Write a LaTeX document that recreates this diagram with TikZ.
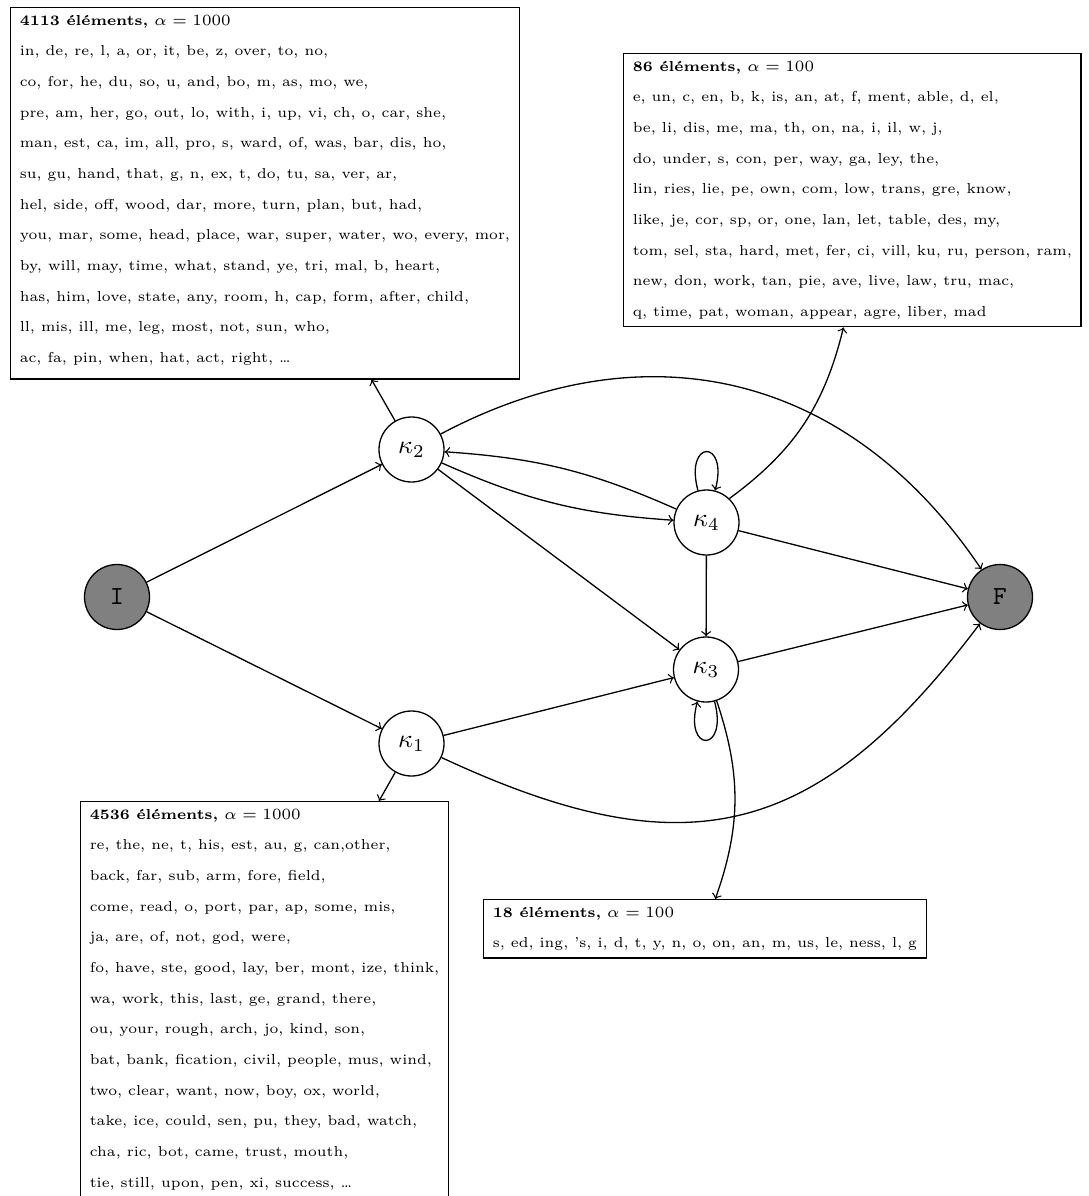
\documentclass[tikz,border=0pt]{standalone}
\begin{document}
\begin{tikzpicture}[x=0.3846pt, y=0.3846pt, line width=0.5pt,
  state/.style={circle, draw, minimum size=25pt, inner sep=0pt},
  term/.style={state, fill=gray, font=\ttfamily},
  wordbox/.style={draw, anchor=north west, align=left, inner xsep=3.5pt,
    inner ysep=2.8pt, font=\fontsize{5.55}{11.8}\selectfont},
  arr/.style={->}]
\useasboundingbox (0,0) rectangle (1089,-1196);

% states
\node[term]  (I)  at (117,-597)     {I};
\node[term]  (F)  at (1000,-597)    {F};
\node[state] (k2) at (411.5,-449.5) {$\kappa_2$};
\node[state] (k4) at (706.5,-522.5) {$\kappa_4$};
\node[state] (k3) at (706,-669.5)   {$\kappa_3$};
\node[state] (k1) at (411.5,-743.5) {$\kappa_1$};

% word lists emitted by each state
\node[wordbox] (b2) at (10,-7) {\textbf{4113 éléments,} $\alpha = 1000$\\
in, de, re, l, a, or, it, be, z, over, to, no,\\
co, for, he, du, so, u, and, bo, m, as, mo, we,\\
pre, am, her, go, out, lo, with, i, up, vi, ch, o, car, she,\\
man, est, ca, im, all, pro, s, ward, of, was, bar, dis, ho,\\
su, gu, hand, that, g, n, ex, t, do, tu, sa, ver, ar,\\
hel, side, off, wood, dar, more, turn, plan, but, had,\\
you, mar, some, head, place, war, super, water, wo, every, mor,\\
by, will, may, time, what, stand, ye, tri, mal, b, heart,\\
has, him, love, state, any, room, h, cap, form, after, child,\\
ll, mis, ill, me, leg, most, not, sun, who,\\
ac, fa, pin, when, hat, act, right, \dots\rule[-3.5pt]{0pt}{0pt}};

\node[wordbox] (b4) at (623,-53) {\textbf{86 éléments,} $\alpha = 100$\\
e, un, c, en, b, k, is, an, at, f, ment, able, d, el,\\
be, li, dis, me, ma, th, on, na, i, il, w, j,\\
do, under, s, con, per, way, ga, ley, the,\\
lin, ries, lie, pe, own, com, low, trans, gre, know,\\
like, je, cor, sp, or, one, lan, let, table, des, my,\\
tom, sel, sta, hard, met, fer, ci, vill, ku, ru, person, ram,\\
new, don, work, tan, pie, ave, live, law, tru, mac,\\
q, time, pat, woman, appear, agre, liber, mad};

\node[wordbox] (b1) at (80,-801) {\textbf{4536 éléments,} $\alpha = 1000$\\
re, the, ne, t, his, est, au, g, can,other,\\
back, far, sub, arm, fore, field,\\
come, read, o, port, par, ap, some, mis,\\
ja, are, of, not, god, were,\\
fo, have, ste, good, lay, ber, mont, ize, think,\\
wa, work, this, last, ge, grand, there,\\
ou, your, rough, arch, jo, kind, son,\\
bat, bank, fication, civil, people, mus, wind,\\
two, clear, want, now, boy, ox, world,\\
take, ice, could, sen, pu, they, bad, watch,\\
cha, ric, bot, came, trust, mouth,\\
tie, still, upon, pen, xi, success, \dots\rule[-5pt]{0pt}{0pt}};

\node[wordbox] (b3) at (483,-899) {\textbf{18 éléments,} $\alpha = 100$\\
s, ed, ing, 's, i, d, t, y, n, o, on, an, m, us, le, ness, l, g};

% transitions
\draw[arr] (I) -- (k2);
\draw[arr] (I) -- (k1);
\draw[arr] (k2) -- (b2);
\draw[arr] (k2) to[bend left=42, looseness=1.08] (F);
\draw[arr] (k2) to[bend right=10] (k4);
\draw[arr] (k4) to[bend right=10] (k2);
\draw[arr] (k2) -- (k3);
\draw[arr] (k4) to[loop above] ();
\draw[arr] (k4) to[bend right=20] (b4);
\draw[arr] (k4) -- (F);
\draw[arr] (k4) -- (k3);
\draw[arr] (k3) -- (F);
\draw[arr] (k1) -- (k3);
\draw[arr] (k1) to[bend right=39, looseness=1.25] (F);
\draw[arr] (k3) to[loop below] ();
\draw[arr] (k3) to[bend left=19] (b3);
\draw[arr] (k1) -- (b1);
\end{tikzpicture}
\end{document}
